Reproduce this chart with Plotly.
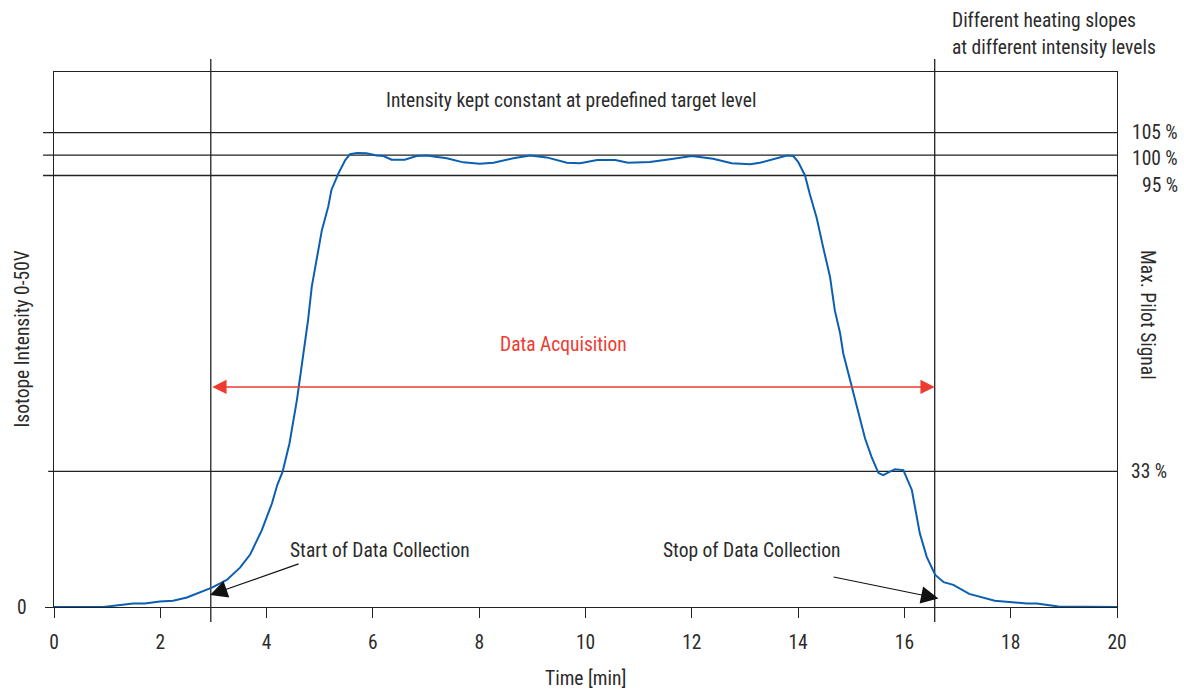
import plotly.graph_objects as go

# ---- data ----
time_min = [0.00, 0.93, 1.49, 1.71, 1.99, 2.24, 2.50, 2.75, 2.97, 3.25, 3.50, 3.69, 3.91,
            4.10, 4.20, 4.30, 4.43, 4.57, 4.69, 4.78, 4.85, 4.94, 5.04, 5.16, 5.22, 5.35,
            5.48, 5.57, 5.70, 5.88, 6.07, 6.20, 6.35, 6.60, 6.82, 7.01, 7.39, 7.70, 8.01,
            8.27, 8.64, 8.96, 9.27, 9.65, 9.90, 10.22, 10.56, 10.80, 11.21, 11.59, 12.00,
            12.40, 12.75, 13.10, 13.28, 13.79, 13.91, 14.00, 14.13, 14.22, 14.35, 14.47,
            14.60, 14.69, 14.79, 14.85, 15.01, 15.13, 15.26, 15.38, 15.51, 15.60, 15.82,
            15.98, 16.14, 16.29, 16.42, 16.58, 16.74, 16.92, 17.22, 17.70, 18.30, 18.49,
            18.90, 20.00]
intensity = [0.0, 0.0, 0.8, 0.8, 1.2, 1.4, 2.1, 3.2, 4.3, 6.0, 8.7, 11.6, 17.0,
             22.9, 27.0, 29.9, 36.2, 45.8, 56.2, 63.5, 70.9, 76.8, 83.4, 88.6, 92.3, 95.9,
             98.9, 100.2, 100.5, 100.4, 99.9, 99.8, 99.0, 99.0, 99.8, 99.9, 99.3, 98.4, 98.1,
             98.3, 99.3, 99.9, 99.5, 98.3, 98.2, 98.9, 98.9, 98.3, 98.5, 99.1, 99.8,
             99.2, 98.2, 98.0, 98.3, 99.9, 99.8, 98.5, 95.5, 91.4, 86.1, 79.7,
             73.1, 65.7, 60.6, 56.1, 48.7, 43.1, 37.3, 33.3, 29.7, 29.2, 30.5,
             30.3, 25.9, 16.3, 11.1, 7.1, 5.5, 4.9, 2.9, 1.4, 0.8, 0.8,
             0.1, 0.0]

x_ticks = [0, 2, 4, 6, 8, 10, 12, 14, 16, 18, 20]
level_values = [105.0, 100.0, 95.5, 30.0]
level_labels = ["105 %", "100 %", "95 %", "33 %"]
start_time = 2.95
stop_time = 16.57
acq_level = 48.7

X_RANGE = [0, 20]
Y_RANGE = [0, 118.4]

FONT = "Liberation Sans Narrow, Roboto Condensed, Roboto, Arial, sans-serif"
FS = 19.5
TXT = "#2b2b2b"
LINE = "#222222"
BLUE = "#0b5fb0"
RED = "#ee3b30"

fig = go.Figure()
fig.add_trace(go.Scatter(x=time_min, y=intensity, mode="lines",
                         line=dict(color=BLUE, width=2), showlegend=False,
                         hoverinfo="skip"))

shapes = []
# horizontal target-level lines (extend a little left of the frame)
for v, lab in zip(level_values, level_labels):
    x0 = -0.0055 if lab == "33 %" else -0.0103
    shapes.append(dict(type="line", xref="paper", yref="y", x0=x0, x1=1, y0=v, y1=v,
                       line=dict(color=LINE, width=1.3), layer="below"))
# vertical start / stop lines
for t in (start_time, stop_time):
    shapes.append(dict(type="line", xref="x", yref="paper", x0=t, x1=t,
                       y0=-0.028, y1=1.0243, line=dict(color=LINE, width=1.3),
                       layer="below"))

ann = []
# right-hand level labels
for v, lab in zip(level_values, level_labels):
    if lab == "33 %":
        ann.append(dict(xref="paper", yref="y", x=1, y=v, xshift=12, xanchor="left",
                        yanchor="middle", text=lab, showarrow=False))
    else:
        ys = {"105 %": 0, "100 %": -3, "95 %": -10}[lab]
        ann.append(dict(xref="paper", yref="y", x=1, y=v, xshift=63, yshift=ys,
                        xanchor="right", yanchor="middle", text=lab, showarrow=False))

ann += [
    dict(xref="x", yref="y", x=9.73, y=112, text="Intensity kept constant at predefined target level",
         showarrow=False, xanchor="center", yanchor="middle"),
    dict(xref="x", yref="paper", x=16.86, y=1, yshift=52, xanchor="left", yanchor="middle",
         text="Different heating slopes", showarrow=False),
    dict(xref="x", yref="paper", x=16.86, y=1, yshift=25, xanchor="left", yanchor="middle",
         text="at different intensity levels", showarrow=False),
    dict(xref="paper", yref="y", x=1, y=64.6, xshift=31, text="Max. Pilot Signal",
         textangle=90, showarrow=False, xanchor="center", yanchor="middle"),
    dict(xref="paper", yref="paper", x=0, y=0.5, xshift=-32, text="Isotope Intensity 0-50V",
         textangle=-90, showarrow=False, xanchor="center", yanchor="middle"),
    dict(xref="paper", yref="y", x=0, y=0, xshift=-32, text="0", showarrow=False,
         xanchor="center", yanchor="middle"),
    dict(xref="paper", yref="paper", x=0.5, y=0, yshift=-71, text="Time [min]",
         showarrow=False, xanchor="center", yanchor="middle"),
    dict(xref="x", yref="y", x=9.58, y=58, text="Data Acquisition", showarrow=False,
         font=dict(color=RED), xanchor="center", yanchor="middle"),
    # red double arrow
    dict(xref="x", yref="y", axref="x", ayref="y", x=stop_time, y=acq_level,
         ax=start_time, ay=acq_level, text="", showarrow=True, arrowside="end+start",
         arrowhead=2, startarrowhead=2, arrowsize=1.9, startarrowsize=1.9,
         arrowwidth=1.5, arrowcolor=RED, standoff=0, startstandoff=0),
    # start / stop labels
    dict(xref="x", yref="y", x=4.40, y=12.4, text="Start of Data Collection",
         showarrow=False, xanchor="left", yanchor="middle"),
    dict(xref="x", yref="y", x=11.42, y=12.4, text="Stop of Data Collection",
         showarrow=False, xanchor="left", yanchor="middle"),
    dict(xref="x", yref="y", axref="x", ayref="y", x=2.935, y=2.65, ax=4.63, ay=9.67,
         text="", showarrow=True, arrowhead=2, arrowsize=2.9, arrowwidth=1.2,
         arrowcolor="#111111"),
    dict(xref="x", yref="y", axref="x", ayref="y", x=16.64, y=1.9, ax=14.64, ay=6.7,
         text="", showarrow=True, arrowhead=2, arrowsize=2.9, arrowwidth=1.2,
         arrowcolor="#111111"),
]

fig.update_layout(
    width=1184, height=690,
    margin=dict(l=54, r=67, t=72, b=83, pad=0),
    paper_bgcolor="white", plot_bgcolor="white",
    font=dict(family=FONT, size=FS, color=TXT),
    shapes=shapes, annotations=ann, showlegend=False,
    xaxis=dict(range=X_RANGE, tickvals=x_ticks, ticks="outside", ticklen=10,
               tickcolor=LINE, tickwidth=1.3, showline=True, linecolor=LINE,
               linewidth=1.3, mirror=True, showgrid=False, zeroline=False,
               tickfont=dict(size=FS, color=TXT), ticklabelstandoff=7, fixedrange=True),
    yaxis=dict(range=Y_RANGE, tickvals=[0], ticks="outside", ticklen=8,
               tickcolor=LINE, tickwidth=1.3, showline=True, linecolor=LINE,
               linewidth=1.3, mirror=True, showgrid=False, zeroline=False,
               showticklabels=False, fixedrange=True),
)

fig.write_html("out.html", config={"displayModeBar": False},
               post_script="document.body.style.margin='0';document.body.style.overflow='hidden';")
